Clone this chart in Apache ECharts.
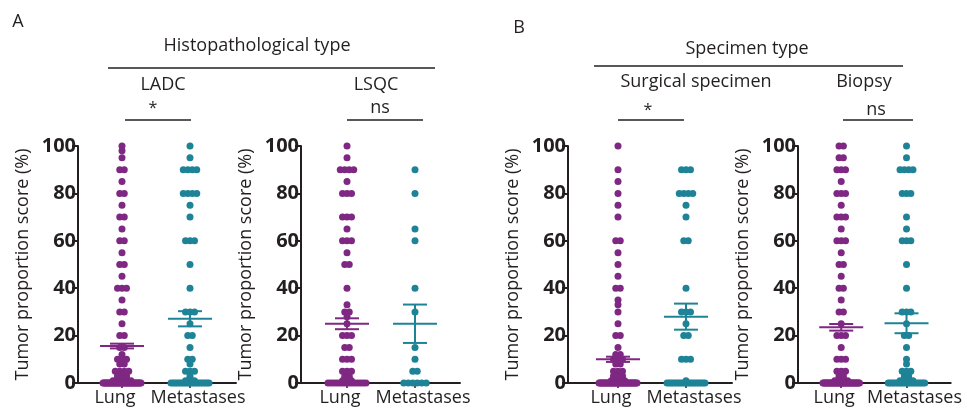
<!DOCTYPE html>
<html>
<head>
<meta charset="utf-8">
<script src="https://cdn.jsdelivr.net/npm/echarts@6/dist/echarts.min.js"></script>
<style>
  html, body { margin: 0; background: #fff; }
  #chart { width: 965px; height: 418px; }
</style>
</head>
<body>
<div id="chart"></div>
<script>
const groups = ["Lung", "Metastases"];
const yTicks = [0, 20, 40, 60, 80, 100];
const yTitle = "Tumor proportion score (%)";
const panelTitles = ["LADC", "LSQC", "Surgical specimen", "Biopsy"];
const sigLabels = ["*", "ns", "*", "ns"];
const sectionTitles = ["Histopathological type", "Specimen type"];
const sectionLetters = ["A", "B"];

// [score, number of cases]
const ladcLung = [[100, 1], [98, 1], [95, 1], [90, 2], [85, 1], [80, 2], [75, 1], [70, 2], [65, 1], [60, 2], [55, 1], [50, 2], [45, 1], [40, 3], [35, 1], [30, 2], [25, 1], [20, 2], [15, 2], [12, 1], [10, 3], [8, 2], [5, 4], [3, 3], [2, 3], [1, 5], [0, 40]];
const ladcMet = [[100, 1], [95, 1], [90, 4], [80, 4], [75, 1], [70, 1], [60, 3], [50, 1], [40, 1], [30, 3], [25, 1], [20, 2], [15, 1], [10, 2], [8, 1], [5, 3], [3, 1], [2, 1], [1, 3], [0, 20]];
const lsqcLung = [[100, 1], [95, 1], [90, 4], [85, 1], [80, 3], [70, 3], [65, 1], [60, 3], [55, 1], [50, 2], [40, 1], [33, 1], [30, 2], [28, 1], [25, 1], [20, 3], [15, 2], [10, 3], [5, 3], [3, 2], [2, 2], [1, 3], [0, 15]];
const lsqcMet = [[90, 1], [80, 1], [65, 1], [60, 1], [40, 1], [30, 1], [15, 1], [10, 1], [5, 2], [0, 6]];
const surgLung = [[100, 1], [90, 1], [85, 1], [80, 1], [75, 1], [70, 1], [60, 2], [55, 1], [50, 1], [45, 1], [40, 2], [35, 1], [33, 1], [30, 1], [25, 1], [20, 2], [15, 1], [12, 2], [10, 3], [8, 2], [5, 3], [3, 3], [2, 3], [1, 4], [0, 40]];
const surgMet = [[90, 3], [80, 4], [75, 1], [70, 1], [60, 2], [40, 1], [30, 3], [25, 1], [20, 2], [10, 3], [1, 1], [0, 20]];
const biopLung = [[100, 2], [95, 2], [90, 3], [85, 1], [80, 3], [75, 1], [70, 3], [65, 1], [60, 3], [55, 1], [50, 2], [45, 1], [40, 2], [35, 1], [30, 2], [25, 1], [20, 3], [15, 1], [10, 3], [5, 3], [3, 2], [2, 2], [1, 4], [0, 40]];
const biopMet = [[100, 1], [95, 1], [90, 4], [80, 3], [70, 1], [65, 1], [60, 3], [50, 1], [40, 1], [30, 3], [25, 1], [20, 2], [15, 1], [10, 1], [8, 1], [5, 3], [3, 2], [2, 2], [1, 4], [0, 20]];

const panelData = [[ladcLung, ladcMet], [lsqcLung, lsqcMet], [surgLung, surgMet], [biopLung, biopMet]];
// mean and SEM per panel, [Lung, Metastases]
const means = [[15.6, 27.1], [25.0, 25.0], [10.0, 28.0], [23.5, 25.2]];
const sems = [[1.0, 3.2], [2.3, 8.1], [1.1, 5.5], [1.4, 4.2]];

const colors = ["#7f2883", "#1f8397"];
const ink = "#231f20";
const font = "Open Sans";

// layout (pixels)
const gridLeft = [78, 301, 568, 798];
const gridRight = [236, 460, 732, 957];
const lungX = [122, 347, 618, 843];
const step = 68;
const gridTop = 146, gridHeight = 237;

// spread dots sharing a score side by side, squeezing wide rows
function swarm(pairs, center) {
  const pts = [];
  pairs.forEach(([v, n]) => {
    const d = n > 1 ? Math.min(4.5, 38 / (n - 1)) : 0;
    for (let k = 0; k < n; k++) {
      pts.push([center + ((k - (n - 1) / 2) * d) / step, v]);
    }
  });
  return pts;
}

const grids = [], xAxes = [], yAxes = [], series = [], graphics = [];

panelData.forEach((pair, i) => {
  grids.push({ left: gridLeft[i], width: gridRight[i] - gridLeft[i], top: gridTop, height: gridHeight });
  xAxes.push({
    gridIndex: i,
    type: "value",
    min: (gridLeft[i] - lungX[i]) / step,
    max: (gridRight[i] - lungX[i]) / step,
    splitLine: { show: false },
    axisLine: { onZero: false, lineStyle: { color: ink, width: 2 } },
    axisTick: { customValues: [0, 1], length: 5, lineStyle: { color: ink, width: 1.5 } },
    axisLabel: {
      customValues: [0, 1],
      formatter: (v) => (Math.round(v) === 0 ? "{l|" : "{m|") + groups[Math.round(v)] + "}",
      color: ink, fontFamily: font, fontSize: 18, margin: 6,
      rich: {
        l: { color: ink, fontFamily: font, fontSize: 18, padding: [0, 14, 0, 0] },
        m: { color: ink, fontFamily: font, fontSize: 18, padding: [0, 0, 0, 16] }
      }
    }
  });
  yAxes.push({
    gridIndex: i,
    type: "value",
    min: 0, max: 100, interval: 20,
    name: yTitle,
    nameLocation: "middle",
    nameGap: 46,
    nameTextStyle: { color: ink, fontFamily: font, fontSize: 18 },
    splitLine: { show: false },
    axisLine: { onZero: false, lineStyle: { color: ink, width: 2 } },
    axisTick: { length: 6, lineStyle: { color: ink, width: 2 } },
    axisLabel: { color: ink, fontFamily: font, fontSize: 20, fontWeight: "bold", margin: 2 }
  });
  pair.forEach((pairs, g) => {
    series.push({
      type: "scatter",
      xAxisIndex: i, yAxisIndex: i,
      data: swarm(pairs, g),
      symbolSize: 7,
      itemStyle: { color: colors[g], opacity: 1 },
      silent: true,
      z: 2
    });
  });
  series.push({
    type: "custom",
    xAxisIndex: i, yAxisIndex: i,
    data: [0, 1].map((g) => [g, means[i][g], sems[i][g]]),
    z: 5,
    silent: true,
    renderItem: (params, api) => {
      const x = api.value(0), m = api.value(1), s = api.value(2);
      const c = api.coord([x, m]), hi = api.coord([x, m + s]), lo = api.coord([x, m - s]);
      const style = { stroke: colors[params.dataIndex], lineWidth: 2 };
      return {
        type: "group",
        children: [
          { type: "line", shape: { x1: c[0] - 22, y1: c[1], x2: c[0] + 22, y2: c[1] }, style },
          { type: "line", shape: { x1: hi[0] - 12, y1: hi[1], x2: hi[0] + 12, y2: hi[1] }, style },
          { type: "line", shape: { x1: lo[0] - 12, y1: lo[1], x2: lo[0] + 12, y2: lo[1] }, style },
          { type: "line", shape: { x1: c[0], y1: hi[1], x2: c[0], y2: lo[1] }, style }
        ]
      };
    }
  });
});

// headers
const textStyle = (size) => ({ fill: ink, font: `${size}px "${font}"`, align: "center", verticalAlign: "middle" });
const letterPos = [[18, 22], [519, 28]];
const sectionPos = [[257, 46], [747, 49]];
const sectionLine = [[108, 435, 68], [594, 903, 66]];
const titlePos = [[163, 85], [376, 85], [696, 82], [864, 82]];
const sigPos = [[153, 108], [380, 108], [648, 110], [876, 110]];
const sigLine = [[125, 191, 120], [347, 423, 120], [618, 684, 120], [843, 913, 120]];

sectionLetters.forEach((t, k) => {
  graphics.push({ type: "text", x: letterPos[k][0], y: letterPos[k][1], style: Object.assign({ text: t }, textStyle(18)) });
  graphics.push({ type: "text", x: sectionPos[k][0], y: sectionPos[k][1], style: Object.assign({ text: sectionTitles[k] }, textStyle(18)) });
  const [a, b, y] = sectionLine[k];
  graphics.push({ type: "line", shape: { x1: a, y1: y, x2: b, y2: y }, style: { stroke: ink, lineWidth: 1.5 } });
});
panelTitles.forEach((t, i) => {
  graphics.push({ type: "text", x: titlePos[i][0], y: titlePos[i][1], style: Object.assign({ text: t }, textStyle(18)) });
  graphics.push({ type: "text", x: sigPos[i][0], y: sigPos[i][1], style: Object.assign({ text: sigLabels[i] }, textStyle(sigLabels[i] === "*" ? 16 : 18)) });
  const [a, b, y] = sigLine[i];
  graphics.push({ type: "line", shape: { x1: a, y1: y, x2: b, y2: y }, style: { stroke: ink, lineWidth: 1.5 } });
});

const chart = echarts.init(document.getElementById("chart"), null, { renderer: "canvas" });
chart.setOption({
  animation: false,
  backgroundColor: "#fff",
  grid: grids,
  xAxis: xAxes,
  yAxis: yAxes,
  series,
  graphic: graphics
});
</script>
</body>
</html>
